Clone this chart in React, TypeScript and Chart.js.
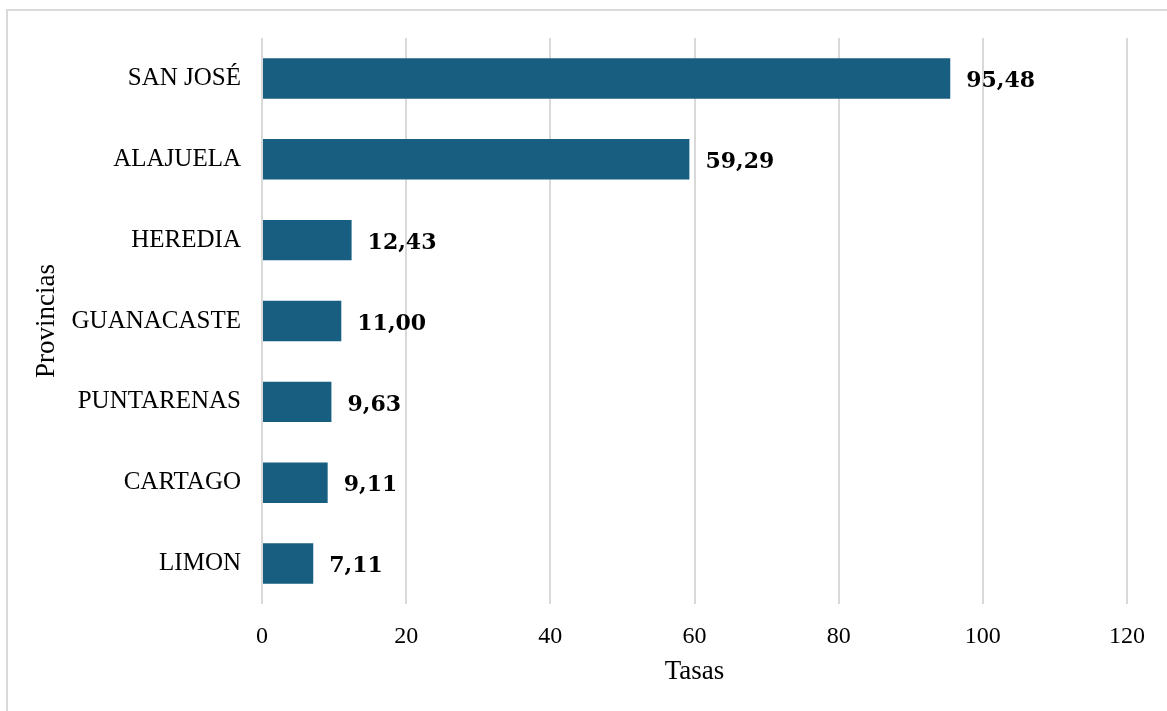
import React, { useEffect, useRef } from "react";
import { Chart, registerables } from "chart.js";
Chart.register(...registerables);

const provinces = ["SAN JOSÉ", "ALAJUELA", "HEREDIA", "GUANACASTE", "PUNTARENAS", "CARTAGO", "LIMON"];
const rates = [95.48, 59.29, 12.43, 11.0, 9.63, 9.11, 7.11];
const xMin = 0;
const xMax = 120;
const xStep = 20;
const xTitle = "Tasas";
const yTitle = "Provincias";

const SERIF = "'Liberation Serif', serif";
const BAR = "#175E80";
const GRID = "#d9d9d9";

const valueLabels = {
  id: "valueLabels",
  afterDatasetsDraw(chart: any) {
    const ctx = chart.ctx;
    const meta = chart.getDatasetMeta(0);
    ctx.save();
    ctx.font = "bold 22px 'DejaVu Serif', serif";
    ctx.fillStyle = "#000";
    ctx.textAlign = "left";
    ctx.textBaseline = "middle";
    meta.data.forEach((el: any, i: number) => {
      const txt = rates[i].toFixed(2).replace(".", ",");
      ctx.fillText(txt, el.x + 16, el.y + 3);
    });
    ctx.restore();
  },
};

export default function App() {
  const ref = useRef<HTMLCanvasElement | null>(null);
  useEffect(() => {
    if (!ref.current) return;
    const chart = new Chart(ref.current, {
      type: "bar",
      data: {
        labels: provinces,
        datasets: [
          {
            data: rates,
            backgroundColor: BAR,
            barPercentage: 0.5,
            categoryPercentage: 1,
          },
        ],
      },
      options: {
        indexAxis: "y",
        animation: false,
        responsive: false,
        maintainAspectRatio: false,
        layout: { padding: { top: 38, left: 31, right: 40, bottom: 23 } },
        plugins: { legend: { display: false }, tooltip: { enabled: false } },
        scales: {
          x: {
            min: xMin,
            max: xMax,
            ticks: { stepSize: xStep, color: "#000", padding: 18, font: { family: SERIF, size: 24 } },
            grid: { color: GRID, lineWidth: 2, drawTicks: false },
            border: { display: false },
            title: { display: true, text: xTitle, color: "#000", font: { family: SERIF, size: 27 }, padding: 0 },
            afterFit: (s: any) => {
              s.height = 84;
            },
          },
          y: {
            ticks: { color: "#000", padding: 21, font: { family: SERIF, size: 25 } },
            grid: { display: false, drawTicks: false },
            border: { display: false },
            title: { display: true, text: yTitle, color: "#000", font: { family: SERIF, size: 27 }, padding: 0 },
            afterFit: (s: any) => {
              s.width = 231;
            },
          },
        },
      },
      plugins: [valueLabels],
    } as any);
    return () => chart.destroy();
  }, []);
  return (
    <div style={{ position: "fixed", left: 0, top: 0, width: 1167, height: 711, overflow: "hidden", background: "#fff" }}>
      <div
        style={{
          position: "absolute",
          left: 6,
          top: 9,
          width: 1300,
          height: 900,
          border: "2px solid #d9d9d9",
        }}
      />
      <canvas ref={ref} width={1167} height={711} style={{ position: "absolute", left: 0, top: 0 }} />
    </div>
  );
}
